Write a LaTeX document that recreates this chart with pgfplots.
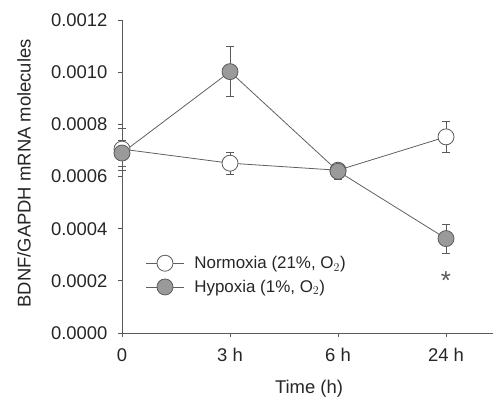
\documentclass[border=0pt]{standalone}
\usepackage{pgfplots}
\pgfplotsset{compat=1.18}
\usepackage{fontspec}
\setmainfont{Liberation Sans}
\definecolor{axgray}{HTML}{5A5A5A}
\definecolor{lngray}{HTML}{606060}
\definecolor{fillgray}{HTML}{9A9A9A}
\begin{document}
\begin{tikzpicture}
\begin{axis}[
  scale only axis,
  width=371bp, height=313bp,
  xmin=0, xmax=3.435,
  ymin=0, ymax=0.0012,
  axis x line*=bottom, axis y line*=left,
  axis line style={axgray, line width=0.9pt, -},
  xtick={0,1,2,3},
  xticklabels={0,3 h,6 h,24 h},
  ytick={0,0.0002,0.0004,0.0006,0.0008,0.0010,0.0012},
  scaled y ticks=false,
  yticklabel={\pgfmathprintnumber[fixed,fixed zerofill,precision=4]{\tick}},
  /pgf/number format/assume math mode=true,
  tick style={axgray, line width=0.7pt},
  major tick length=4bp,
  tick align=outside,
  ticklabel style={font=\fontsize{18.5}{20}\selectfont, text=black!85},
  xticklabel style={yshift=-8bp},
  yticklabel style={xshift=-7bp},
  xlabel={Time (h)},
  ylabel={BDNF/GAPDH mRNA molecules},
  label style={font=\fontsize{18.5}{20}\selectfont, text=black!85},
  xlabel style={at={(axis description cs:0.504,-0.177)}, anchor=center},
  ylabel style={at={(axis description cs:-0.264,0.51)}, anchor=center},
  legend style={at={(axis description cs:0.055,0.185)}, anchor=west, draw=none, fill=none,
    font=\fontsize{17}{20}\selectfont, row sep=6bp, column sep=8bp, text=black!85},
  legend cell align=left,
  legend image code/.code={\draw[#1, mark repeat=2, mark phase=2] plot coordinates {(0bp,0bp) (19bp,0bp) (38bp,0bp)};},
  clip=false,
]
\addplot[lngray, line width=0.8pt, mark=*, mark size=8bp,
  mark options={fill=white, draw=axgray, line width=0.8pt},
  error bars/.cd, y dir=both, y explicit,
  error bar style={axgray, line width=0.8pt}, error mark options={rotate=90, mark size=4bp, axgray, line width=0.8pt}]
coordinates {
(0,0.000705) +- (0,0.00008)
(1,0.000651) +- (0,0.000042)
(2,0.000624) +- (0,0.00002)
(3,0.000752) +- (0,0.00006)
};
\addlegendentry{Normoxia (21\%, O$_2$)}
\addplot[lngray, line width=0.8pt, mark=*, mark size=8bp,
  mark options={fill=fillgray, draw=axgray, line width=0.8pt},
  error bars/.cd, y dir=both, y explicit,
  error bar style={axgray, line width=0.8pt}, error mark options={rotate=90, mark size=4bp, axgray, line width=0.8pt}]
coordinates {
(0,0.00069) +- (0,0.00005)
(1,0.001002) +- (0,0.000095)
(2,0.00062) +- (0,0.00003)
(3,0.000362) +- (0,0.000055)
};
\addlegendentry{Hypoxia (1\%, O$_2$)}
\node[font=\fontsize{26}{26}\selectfont, text=axgray] at (axis cs:3,0.0002) {*};
\end{axis}
\pgfresetboundingbox
\path (-122bp,-66bp) rectangle (372bp,333bp);
\end{tikzpicture}
\end{document}
